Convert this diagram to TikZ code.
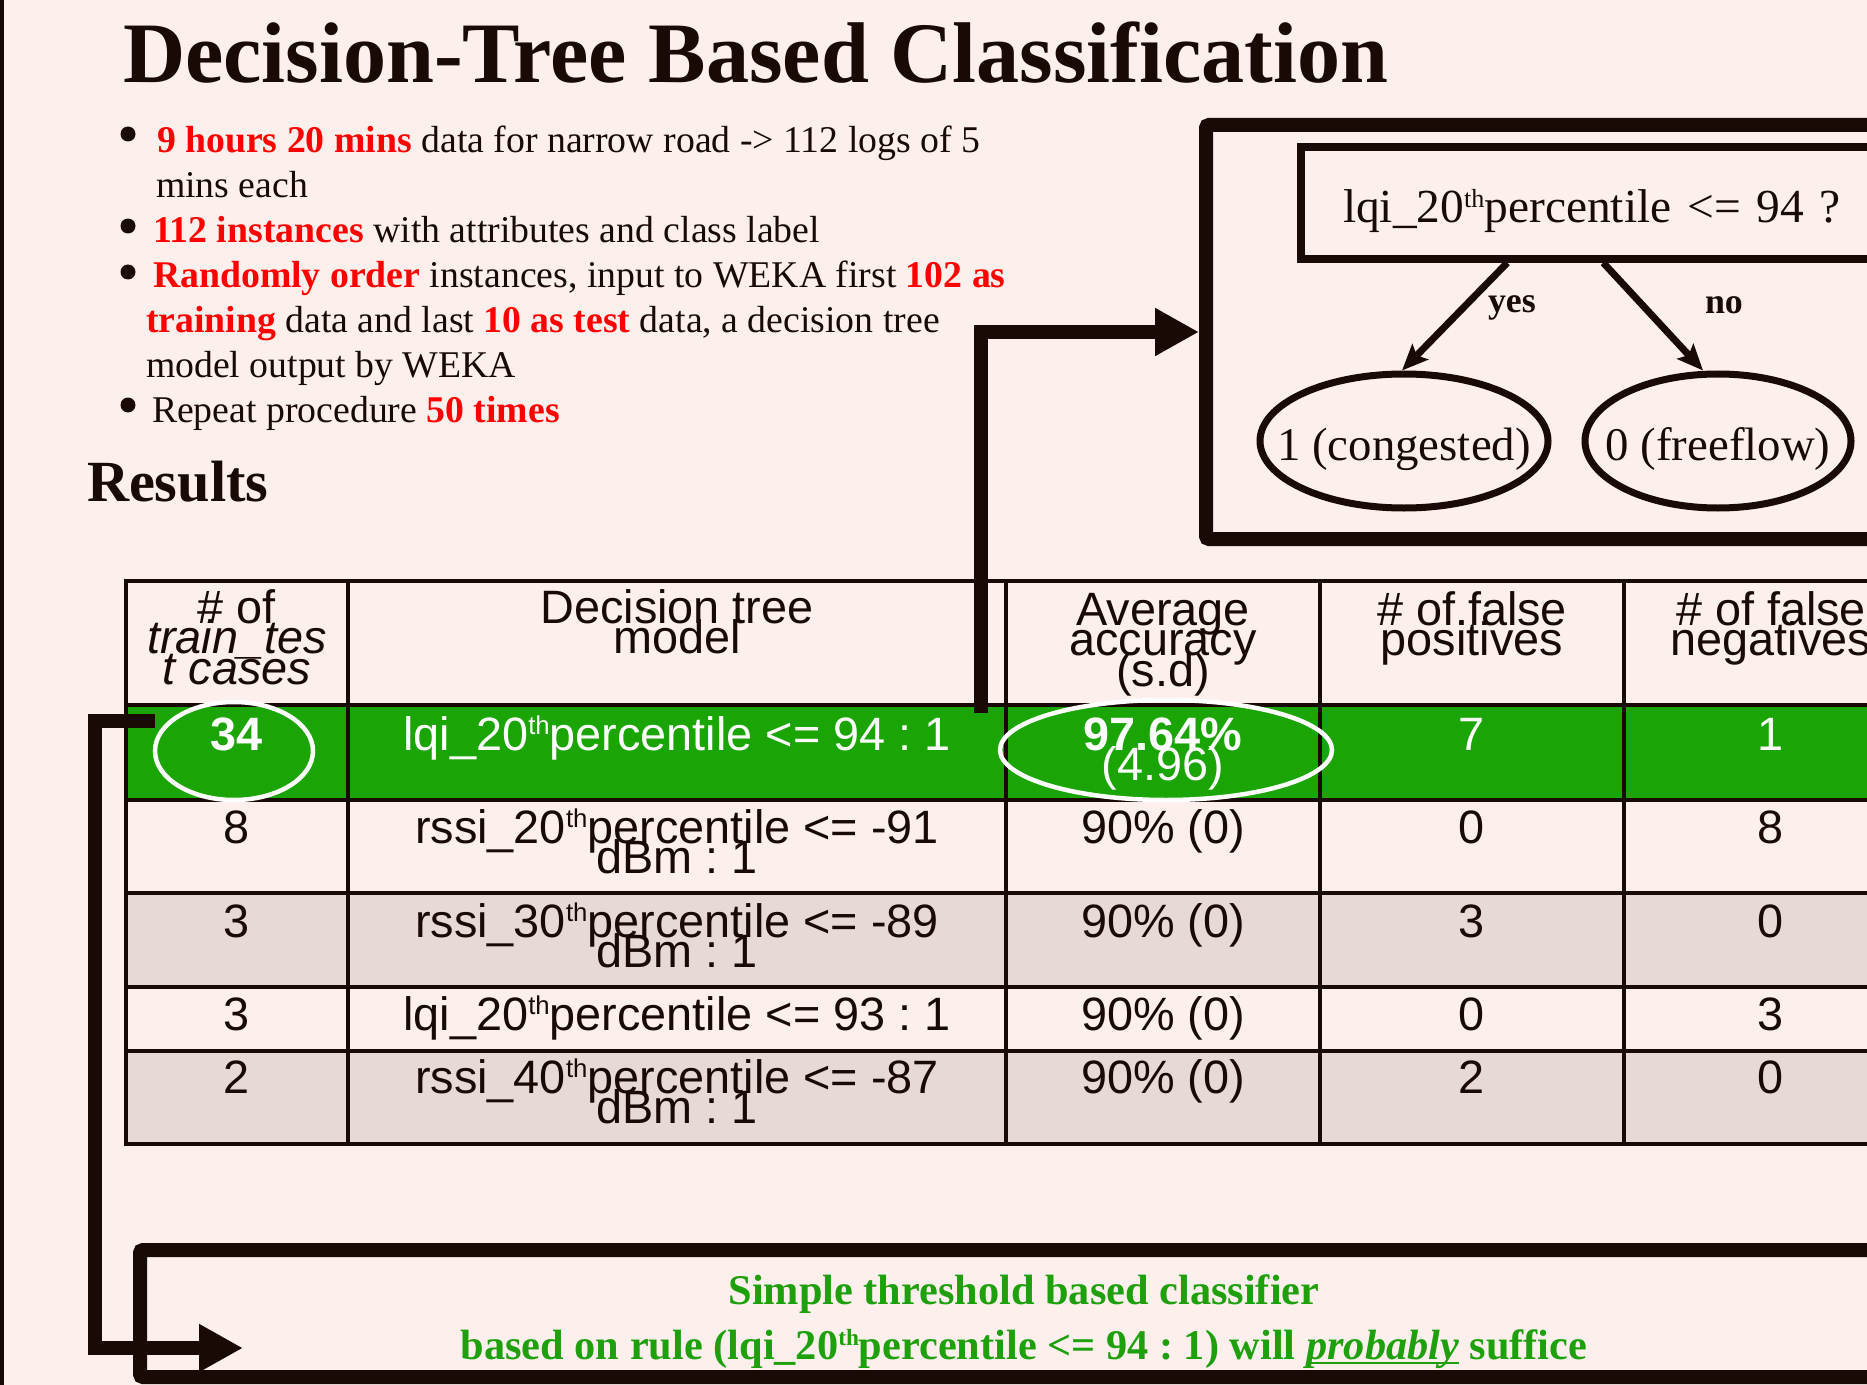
\documentclass[tikz,border=0pt]{standalone}
\usepackage{fontspec}
\setmainfont{Liberation Serif}
\newfontfamily\tablefont{Liberation Sans}
\usepackage{xcolor}
\usepackage{tikz}
\usetikzlibrary{shapes.geometric, arrows.meta, positioning}
\frenchspacing

\definecolor{bgpink}{HTML}{FDF0EC}
\definecolor{ink}{HTML}{1A0A06}
\definecolor{rowgray}{HTML}{E7D9D5}
\definecolor{hlgreen}{HTML}{1AA505}
\definecolor{hlred}{HTML}{FF0000}
\definecolor{notegreen}{HTML}{1E9F0C}

\newcommand{\sups}[1]{\raisebox{0.33em}{\scalebox{0.55}{#1}}}
\newcommand{\hl}[1]{\textbf{\color{hlred}#1}}
\newcommand{\cellrows}[1]{\vtop{\lineskiplimit=-1000pt\halign{\hfil##\hfil\cr#1\crcr}}}
\newcommand{\thickul}[1]{\setbox0\hbox{#1}\rlap{\rule[-5bp]{\wd0}{2.5bp}}\box0\relax}

\tikzstyle{txt} = [inner sep=0pt, outer sep=0pt, text=ink]
\tikzstyle{bullettxt} = [txt, anchor=base west, font=\fontsize{37.9}{45}\selectfont]
\tikzstyle{bulletdot} = [circle, fill=ink, minimum size=15bp, inner sep=0pt]
\tikzstyle{cell} = [txt, anchor=base, font=\tablefont\fontsize{47}{31}\selectfont]
\tikzstyle{hicell} = [cell, text=white]
\tikzstyle{tableline} = [draw=ink, line width=4bp]
\tikzstyle{ring} = [ellipse, draw=white, line width=4.5bp, inner sep=0pt]
\tikzstyle{bigframe} = [rectangle, rounded corners=3bp, draw=ink, line width=14bp, anchor=north west]
\tikzstyle{qframe} = [rectangle, draw=ink, line width=7.5bp, anchor=west, text width=620bp, align=left, inner xsep=42bp, minimum height=112bp, text height=43bp, text depth=3bp, text=ink, font=\fontsize{47.6}{57}\selectfont]
\tikzstyle{leaf} = [ellipse, draw=ink, line width=7bp, inner sep=0pt, minimum height=134bp, text height=40bp, text depth=2bp, text=ink, font=\fontsize{47}{56}\selectfont]
\tikzstyle{treeedge} = [draw=ink, line width=7bp, -{Stealth[length=26bp, width=22bp, inset=5bp]}]
\tikzstyle{link} = [draw=ink, line width=14bp, -{Triangle[length=44bp, width=45bp]}]
\tikzstyle{advice} = [txt, anchor=base, text=notegreen, font=\bfseries\fontsize{42.5}{51}\selectfont]

\begin{document}
\begin{tikzpicture}[x=1bp, y=-1bp]
\useasboundingbox (0,0) rectangle (1867,1385);
\fill[bgpink] (0,0) rectangle (1867,1385);
\draw[ink, line width=4bp] (2,0) -- (2,1385);

% heading and bullet list
\node[txt, anchor=base west, font=\bfseries\fontsize{86.5}{100}\selectfont] (title) at (123,83) {Decision-Tree Based Classification};
\node[bulletdot] (dot1) at (128,134) {};
\node[bulletdot] (dot2) at (128,226) {};
\node[bulletdot] (dot3) at (128,272) {};
\node[bulletdot] (dot4) at (128,405) {};
\node[bullettxt] (item1) at (157,153) {\hl{9 hours 20 mins} data for narrow road -> 112 logs of 5};
\node[bullettxt] (item1b) at (156,198) {mins each};
\node[bullettxt] (item2) at (153,243) {\hl{112 instances} with attributes and class label};
\node[bullettxt] (item3) at (153,288) {\hl{Randomly order} instances, input to WEKA first \hl{102 as}};
\node[bullettxt] (item3b) at (146,333) {\hl{training} data and last \hl{10 as test} data, a decision tree};
\node[bullettxt] (item3c) at (146,377) {model output by WEKA};
\node[bullettxt] (item4) at (152,422) {Repeat procedure \hl{50 times}};
\node[txt, anchor=base west, font=\bfseries\fontsize{58.5}{70}\selectfont] (results) at (87,501) {Results};

% decision tree
\node[bigframe, minimum width=1000bp, minimum height=414bp] (treeframe) at (1199,118) {};
\node[qframe] (qbox) at (1297.25,203) {lqi\_20\sups{th}percentile <= 94 ?};
\node[leaf, minimum width=288bp] (yesleaf) at (1404,441) {\makebox[0pt]{1 (congested)}};
\node[leaf, minimum width=266bp] (noleaf) at (1718,441) {\makebox[0pt]{0 (freeflow)}};
\draw[treeedge] ([xshift=210bp]qbox.south west) -- ([xshift=-2bp]yesleaf.north);
\draw[treeedge] ([xshift=306bp]qbox.south west) -- ([xshift=-15bp]noleaf.north);
\node[txt, anchor=base west, font=\bfseries\fontsize{36}{43}\selectfont] (yeslabel) at (1488,313) {yes};
\node[txt, anchor=base west, font=\bfseries\fontsize{36}{43}\selectfont] (nolabel) at (1705,314) {no};

% results table
\fill[hlgreen] (126,705) rectangle (1950,800);
\fill[rowgray] (126,893) rectangle (1950,987);
\fill[rowgray] (126,1051) rectangle (1950,1144);
\draw[tableline] (124,581) -- (1950,581) (124,705) -- (1950,705) (124,800) -- (1950,800)
  (124,893) -- (1950,893) (124,987) -- (1950,987) (124,1051) -- (1950,1051) (124,1144) -- (1950,1144);
\draw[tableline] (126,579) -- (126,1146) (348,579) -- (348,1146) (1006,579) -- (1006,1146)
  (1320,579) -- (1320,1146) (1624,579) -- (1624,1146);
\node[ring, minimum width=158bp, minimum height=98bp] (ring34) at (234,751) {};
\node[ring, minimum width=332bp, minimum height=100bp] (ringacc) at (1166,750) {};

\node[cell] (h1) at (237,623) {\cellrows{\# of\cr \itshape train\_tes\cr \itshape t cases}};
\node[cell] (h2) at (677,623) {\cellrows{Decision tree\cr model}};
\node[cell] (h3) at (1163,625) {\cellrows{Average\cr accuracy\cr (s.d)}};
\node[cell] (h4) at (1472,625) {\cellrows{\# of.false\cr positives}};
\node[cell] (h5) at (1771,625) {\cellrows{\# of false\cr negatives}};

\node[hicell] (r1c1) at (237,750) {\bfseries 34};
\node[hicell] (r1c2) at (677,750) {lqi\_20\sups{th}percentile <= 94 : 1};
\node[hicell] (r1c3) at (1163,750) {\cellrows{\bfseries 97.64\%\cr (4.96)}};
\node[hicell] (r1c4) at (1472,750) {7};
\node[hicell] (r1c5) at (1771,750) {1};

\node[cell] (r2c1) at (237,843) {8};
\node[cell] (r2c2) at (677,843) {\cellrows{rssi\_20\sups{th}percentile <= -91\cr dBm : 1}};
\node[cell] (r2c3) at (1163,843) {90\% (0)};
\node[cell] (r2c4) at (1472,843) {0};
\node[cell] (r2c5) at (1771,843) {8};

\node[cell] (r3c1) at (237,937) {3};
\node[cell] (r3c2) at (677,937) {\cellrows{rssi\_30\sups{th}percentile <= -89\cr dBm : 1}};
\node[cell] (r3c3) at (1163,937) {90\% (0)};
\node[cell] (r3c4) at (1472,937) {3};
\node[cell] (r3c5) at (1771,937) {0};

\node[cell] (r4c1) at (237,1030) {3};
\node[cell] (r4c2) at (677,1030) {lqi\_20\sups{th}percentile <= 93 : 1};
\node[cell] (r4c3) at (1163,1030) {90\% (0)};
\node[cell] (r4c4) at (1472,1030) {0};
\node[cell] (r4c5) at (1771,1030) {3};

\node[cell] (r5c1) at (237,1093) {2};
\node[cell] (r5c2) at (677,1093) {\cellrows{rssi\_40\sups{th}percentile <= -87\cr dBm : 1}};
\node[cell] (r5c3) at (1163,1093) {90\% (0)};
\node[cell] (r5c4) at (1472,1093) {2};
\node[cell] (r5c5) at (1771,1093) {0};

% conclusion box
\node[bigframe, minimum width=2000bp, minimum height=127bp] (adviceframe) at (133,1243) {};
\node[advice] (advice1) at (1024,1304) {Simple threshold based classifier};
\node[advice] (advice2) at (1024,1359) {based on rule (lqi\_20\sups{th}percentile <= 94 : 1) will \thickul{\itshape probably} suffice};

% connectors
\coordinate (linkup) at (981,713);
\coordinate (linkdown) at (155,721);
\coordinate (advicein) at (243,1348);
\draw[link] (linkup) |- (treeframe.west);
\draw[link] (linkdown) -| (95,1348) -- (advicein);
\end{tikzpicture}
\end{document}
